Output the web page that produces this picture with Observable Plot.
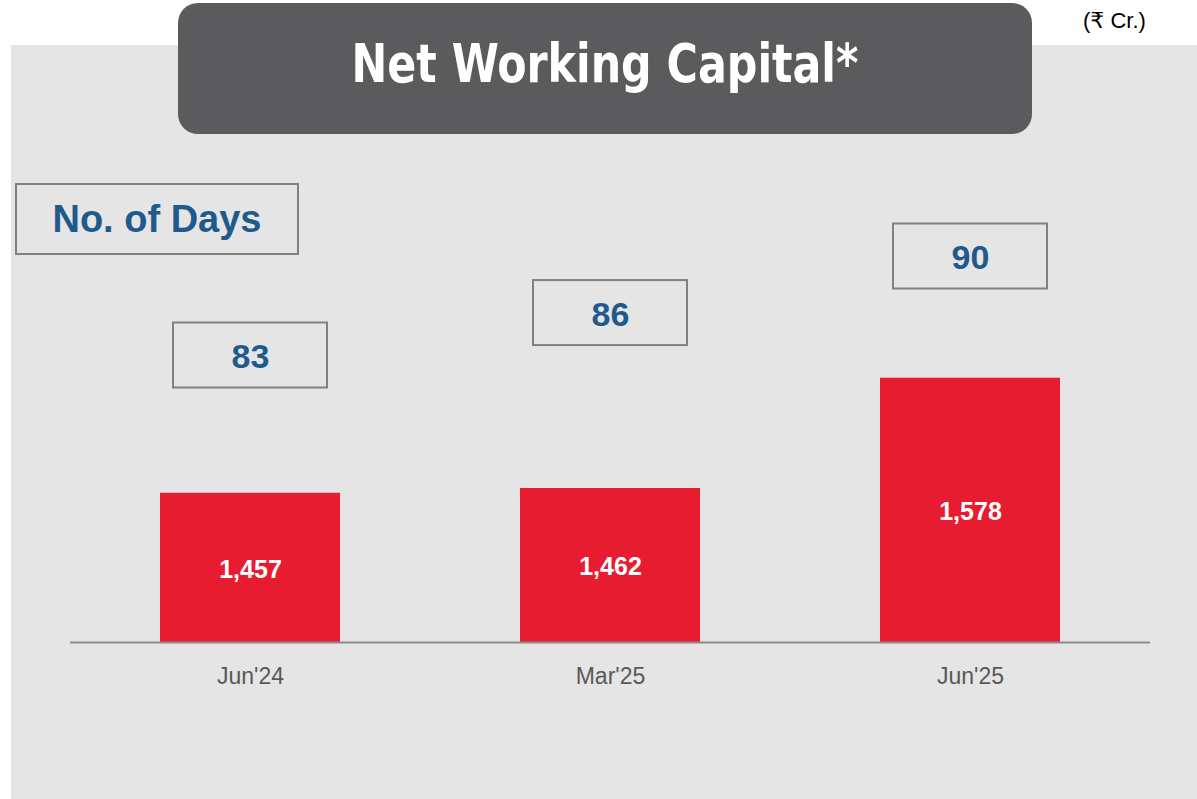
<!DOCTYPE html>
<html><head><meta charset="utf-8">
<script src="https://cdn.jsdelivr.net/npm/d3@7"></script>
<script src="https://cdn.jsdelivr.net/npm/@observablehq/plot@0.6"></script>
<style>
html,body{margin:0;padding:0;background:#fff;}
#wrap{position:relative;width:1197px;height:799px;overflow:hidden;font-family:Arial,"Liberation Sans",sans-serif;}
#bg{position:absolute;left:11px;top:45px;width:1186px;height:754px;background:#E5E5E5;}
#title{position:absolute;left:178px;top:3px;width:854px;height:131px;background:#5B5B5D;border-radius:20px;color:#fff;display:flex;align-items:center;justify-content:center;box-sizing:border-box;padding-bottom:10px;}
#title span{display:inline-block;font-family:"Liberation Sans Narrow","DejaVu Sans Condensed",sans-serif;font-weight:bold;font-size:54px;transform:scaleX(0.88);white-space:nowrap;}
#unit{position:absolute;left:1083px;top:8px;font-size:22px;color:#000;font-family:Arial,"Liberation Sans","DejaVu Sans",sans-serif;}
#daysLabel{position:absolute;left:15px;top:183px;width:280px;height:68px;border:2px solid #808080;display:flex;align-items:center;justify-content:center;color:#1F5A8C;font-weight:bold;font-size:38px;}
.layer{position:absolute;left:0;top:0;}
</style>
</head><body>
<div id="wrap">
  <div id="bg"></div>
  <div id="title"><span>Net Working Capital*</span></div>
  <div id="unit">(₹ Cr.)</div>
  <div id="daysLabel">No. of Days</div>
</div>
<script>
const periods = ["Jun'24", "Mar'25", "Jun'25"];
const nwc = [1457, 1462, 1578];
const days = [83, 86, 90];

const data = periods.map((p, i) => ({period: p, nwc: nwc[i], days: days[i]}));
const base = 1300;
const fmt = d3.format(",");

const xOpts = {domain: periods, paddingInner: 0.5, paddingOuter: 0.25};

const bars = Plot.plot({
  width: 1197, height: 799,
  marginLeft: 70, marginRight: 47, marginTop: 45, marginBottom: 157,
  style: {background: "transparent", fontFamily: "Arial, 'Liberation Sans', sans-serif", overflow: "visible"},
  x: {...xOpts, label: null},
  y: {domain: [base, 1928], axis: null},
  marks: [
    Plot.barY(data, {x: "period", y1: base, y2: "nwc", fill: "#E81C31"}),
    Plot.ruleY([base], {stroke: "#8C8C8C", strokeWidth: 2}),
    Plot.text(data, {x: "period", y: d => (base + d.nwc) / 2, text: d => fmt(d.nwc), fill: "#fff", fontWeight: "bold", fontSize: 25, dy: 2}),
    Plot.axisX({tickSize: 0, tickPadding: 25, fontSize: 23, color: "#595959", label: null})
  ]
});
bars.classList.add("layer");
document.getElementById("wrap").appendChild(bars);

const dayPlot = Plot.plot({
  width: 1197, height: 799,
  marginLeft: 70, marginRight: 47, marginTop: 256, marginBottom: 444,
  style: {background: "transparent", fontFamily: "Arial, 'Liberation Sans', sans-serif", overflow: "visible"},
  x: {...xOpts, axis: null},
  y: {domain: [83, 90], axis: null},
  marks: [
    Plot.text(data, {x: "period", y: "days", text: d => String(d.days), fill: "#1F5A8C", fontWeight: "bold", fontSize: 34, dy: 2})
  ]
});
dayPlot.classList.add("layer");
const xs = dayPlot.scale("x"), ys = dayPlot.scale("y");
const bw = 154, bh = 65;
d3.select(dayPlot).insert("g", ":first-child")
  .selectAll("rect").data(data).join("rect")
  .attr("x", d => xs.apply(d.period) + xs.bandwidth / 2 - bw / 2)
  .attr("y", d => ys.apply(d.days) - bh / 2)
  .attr("width", bw).attr("height", bh)
  .attr("fill", "none").attr("stroke", "#808080").attr("stroke-width", 2);
document.getElementById("wrap").appendChild(dayPlot);
</script>
</body></html>
